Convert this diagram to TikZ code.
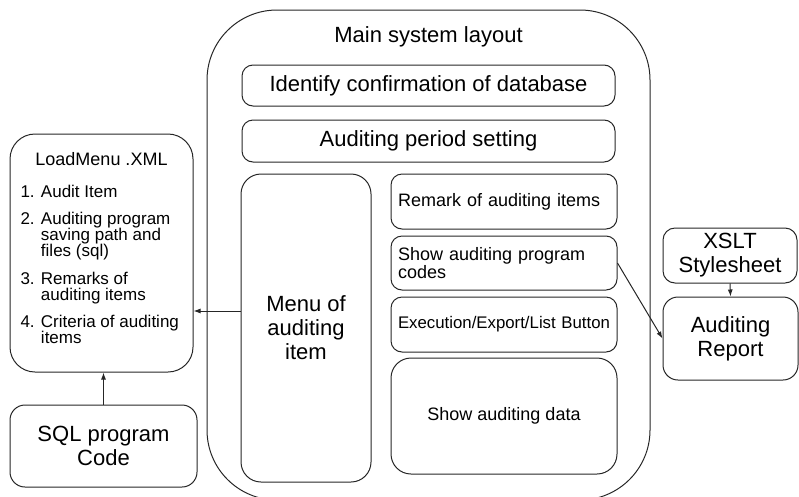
\documentclass[tikz,border=0pt]{standalone}
\usepackage{fontspec}
\setmainfont{Liberation Sans}
\usetikzlibrary{arrows.meta}
\tikzset{
every picture/.style={line width=1pt},
box/.style={draw=black!85, rounded corners=11pt, inner sep=0pt},
txtbig/.style={font=\fontsize{22}{24}\selectfont},
txtsmall/.style={font=\fontsize{18}{16}\selectfont},
panel/.style={box, txtsmall, text width=212pt, align=left, inner xsep=7pt},
arr/.style={draw=black!85, -{Latex[length=7pt,width=5pt]}}
}

\begin{document}
\begin{tikzpicture}[x=1pt, y=-1pt]
    \useasboundingbox (0,0) rectangle (799,496);

    % main window
    \node[box, rounded corners=70pt, minimum width=443pt, minimum height=490pt] (main) at (428.5,255) {};
    \node[txtbig, anchor=base] (title) at (428.5,42) {Main system layout};
    \node[box, txtbig, minimum width=373pt, minimum height=41pt] (identify) at (428.5,85.5) {Identify confirmation of database};
    \node[box, txtbig, minimum width=373pt, minimum height=42pt] (period) at (428.5,141) {Auditing period setting};
    \node[box, txtbig, rounded corners=20pt, align=center, minimum width=130pt, minimum height=308pt] (menu) at (306,328) {Menu of\\auditing\\item};

    % right column of the window
    \node[panel, minimum height=55pt] (remark) at (504,201.5) {Remark of auditing items};
    \node[panel, minimum height=54pt] (codes) at (504,263) {Show auditing program\\codes};
    \node[panel, minimum height=55pt, font=\fontsize{16.8}{16}\selectfont] (buttons) at (504,324.5) {Execution/Export/List Button};
    \node[box, txtsmall, rounded corners=20pt, minimum width=226pt, minimum height=116pt] (data) at (504,416) {Show auditing data};

    % menu file and its source
    \node[box, rounded corners=25pt, minimum width=183pt, minimum height=238pt] (loadmenu) at (101.5,253) {};
    \node[txtsmall, anchor=base] (lmtitle) at (101.5,165) {LoadMenu .XML};
    \node[font=\fontsize{17}{16}\selectfont, align=left, inner sep=0pt, anchor=north west] (lmitems) at (20,184.5) {
      1. Audit Item\\[11.5pt]
      2. Auditing program\\
      \phantom{2. }saving path and\\
      \phantom{2. }files (sql)\\[11.5pt]
      3. Remarks of\\
      \phantom{3. }auditing items\\[11.5pt]
      4. Criteria of auditing\\
      \phantom{4. }items};
    \node[box, txtbig, rounded corners=15pt, align=center, minimum width=187pt, minimum height=82pt] (sql) at (103.5,446) {SQL program\\Code};

    % report output
    \node[box, txtbig, rounded corners=12pt, align=center, minimum width=134pt, minimum height=55pt] (xslt) at (730,255.5) {XSLT\\Stylesheet};
    \node[box, txtbig, rounded corners=15pt, align=center, minimum width=135pt, minimum height=83pt] (report) at (730.5,338.5) {Auditing\\Report};

    \draw[arr] (sql.north) -- (sql.north |- loadmenu.south);
    \draw[arr] ([yshift=17pt]menu.west) -- ([yshift=17pt]menu.west -| loadmenu.east);
    \draw[arr] (xslt.south) -- (report.north);
    \draw[arr] (codes.east) -- (report.west);
\end{tikzpicture}
\end{document}
